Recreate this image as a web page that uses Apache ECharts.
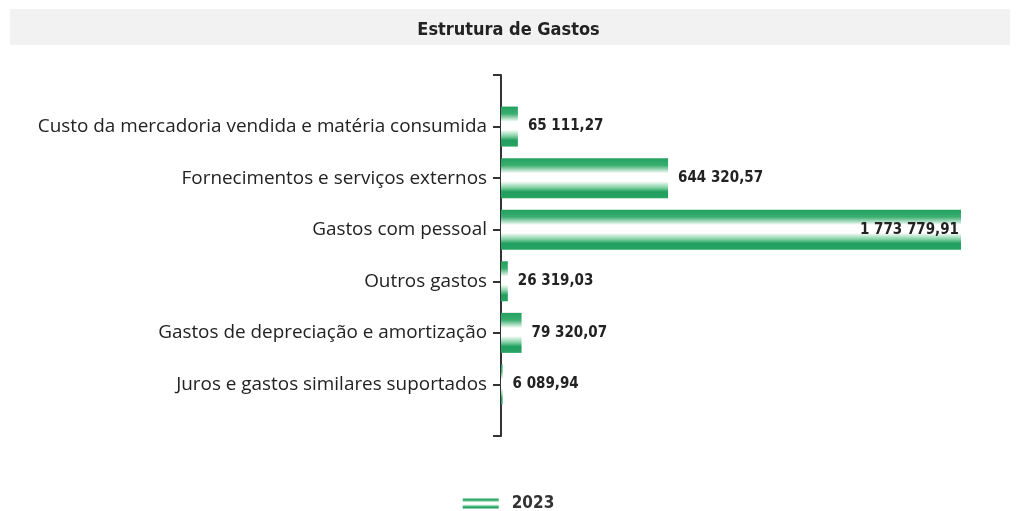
<!DOCTYPE html>
<html>
<head>
<meta charset="utf-8">
<title>Estrutura de Gastos</title>
<script src="https://cdn.jsdelivr.net/npm/echarts@6/dist/echarts.min.js"></script>
<style>
  html, body { margin: 0; padding: 0; background: #fff; }
  #chart { width: 1017px; height: 511px; }
</style>
</head>
<body>
<div id="chart"></div>
<script>
// data
const categories = [
  'Custo da mercadoria vendida e matéria consumida',
  'Fornecimentos e serviços externos',
  'Gastos com pessoal',
  'Outros gastos',
  'Gastos de depreciação e amortização',
  'Juros e gastos similares suportados'
];
const values2023 = [65111.27, 644320.57, 1773779.91, 26319.03, 79320.07, 6089.94];
const seriesName = '2023';

// pt-PT style: space thousands, comma decimals
function fmt(v) {
  const parts = v.toFixed(2).split('.');
  return parts[0].replace(/\B(?=(\d{3})+(?!\d))/g, ' ') + ',' + parts[1];
}

const boldFont = 'DejaVu Sans Condensed';

// empty slots at both ends so the axis line runs past the first/last bar
const axisCats = [''].concat(categories, ['']);
const maxVal = Math.max.apply(null, values2023);
const barData = ['-'].concat(values2023.map(function (v) {
  const big = v === maxVal;
  return {
    value: v,
    label: big ? { position: 'insideRight', distance: 2 } : {}
  };
}), ['-']);

const barGradient = new echarts.graphic.LinearGradient(0, 0, 0, 1, [
  { offset: 0, color: '#22a060' },
  { offset: 0.18, color: '#3aae6f' },
  { offset: 0.38, color: '#ffffff' },
  { offset: 0.58, color: '#ffffff' },
  { offset: 0.74, color: '#80d0a2' },
  { offset: 0.84, color: '#22a060' },
  { offset: 1, color: '#26a262' }
]);

const chart = echarts.init(document.getElementById('chart'));
chart.setOption({
  animation: false,
  graphic: [{
    type: 'rect',
    shape: { x: 10, y: 9, width: 1000, height: 36 },
    style: { fill: '#f2f2f2' },
    z: -1
  }],
  title: {
    text: 'Estrutura de Gastos',
    left: 'center',
    top: 16,
    textStyle: {
      fontFamily: boldFont,
      fontWeight: 'bold',
      fontSize: 18,
      color: '#222'
    }
  },
  legend: {
    top: 490,
    left: 'center',
    itemWidth: 36,
    itemHeight: 10,
    icon: 'rect',
    textStyle: {
      fontFamily: boldFont,
      fontWeight: 'bold',
      fontSize: 17,
      color: '#333',
      padding: [0, 0, 0, 8]
    },
    data: [seriesName]
  },
  grid: { left: 501, right: 56, top: 75, bottom: 75 },
  xAxis: {
    type: 'value',
    min: 0,
    max: maxVal,
    show: false
  },
  yAxis: {
    type: 'category',
    inverse: true,
    boundaryGap: false,
    data: axisCats,
    axisLine: { lineStyle: { color: '#333', width: 2 } },
    axisTick: { show: true, interval: 0, length: 8, lineStyle: { color: '#333', width: 2 } },
    axisLabel: {
      interval: 0,
      margin: 14,
      fontFamily: 'Open Sans',
      fontSize: 18.9,
      color: '#222'
    },
    splitLine: { show: false }
  },
  series: [{
    name: seriesName,
    type: 'bar',
    barWidth: 40,
    data: barData,
    itemStyle: { color: barGradient },
    label: {
      show: true,
      position: 'right',
      distance: 10,
      fontFamily: boldFont,
      fontWeight: 'bold',
      fontSize: 15,
      color: '#222',
      formatter: function (p) { return fmt(p.value); }
    }
  }]
});
</script>
</body>
</html>
